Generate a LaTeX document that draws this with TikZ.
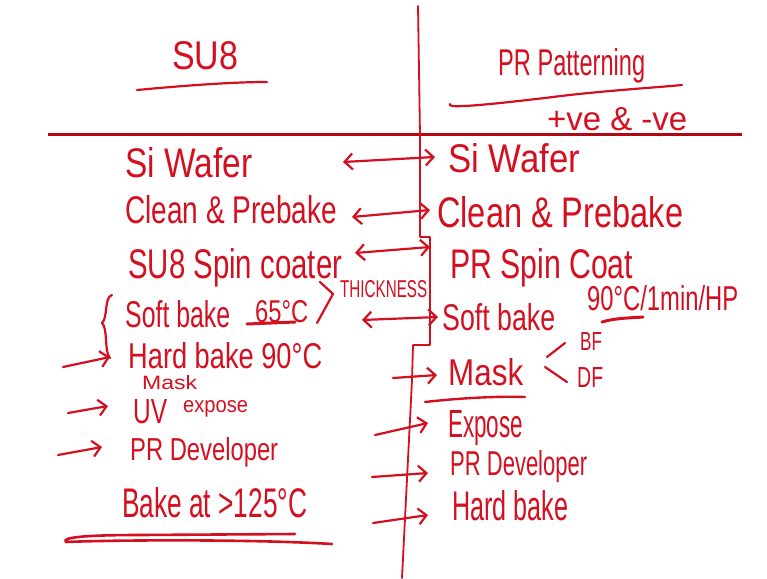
\documentclass[tikz,border=0pt]{standalone}
\usepackage{fontspec}
\setmainfont{Liberation Sans}
\usepackage{graphicx}
\usetikzlibrary{arrows.meta}
\definecolor{hred}{RGB}{212,16,32}
\definecolor{hdark}{RGB}{178,8,20}
\newcommand\hw[3]{\resizebox{#1pt}{#2pt}{#3}}
\begin{document}
\begin{tikzpicture}[x=1pt,y=-1pt,
  lbl/.style={anchor=base west,inner sep=0pt,text=hred},
  pen/.style={draw=hred,line width=2.2pt,line cap=round,line join=round},
  tip/.style={-{Straight Barb[length=8pt,width=16pt]}},
  dtip/.style={{Straight Barb[length=8pt,width=16pt]}-{Straight Barb[length=8pt,width=16pt]}}]
\useasboundingbox (0,0) rectangle (767,578);
\fill[white] (0,0) rectangle (767,578);
% titles
\node[lbl] (tsu) at (172,70) {\hw{66}{28}{SU8}};
\node[lbl] (tpr) at (498,75) {\hw{147}{27}{PR Patterning}};
\node[lbl] (tpm) at (547,130) {\hw{140}{23}{+ve \& -ve}};
% left column
\node[lbl] (l1) at (125,177) {\hw{127}{30}{Si Wafer}};
\node[lbl] (l2) at (125,223) {\hw{212}{28}{Clean \& Prebake}};
\node[lbl] (l3) at (128,278) {\hw{214}{30}{SU8 Spin coater}};
\node[lbl] (l4) at (125,327) {\hw{105}{27}{Soft bake}};
\node[lbl] (l4t) at (255,322) {\hw{53}{22}{65°C}};
\node[lbl] (thk) at (340,297) {\hw{87}{17}{THICKNESS}};
\node[lbl] (l5) at (128,368) {\hw{194}{26}{Hard bake 90°C}};
\node[lbl] (lmask) at (142,389) {\hw{55}{14}{Mask}};
\node[lbl] (l6) at (133,423) {\hw{34}{24}{UV}};
\node[lbl] (l6b) at (183,412) {\hw{65}{12}{expose}};
\node[lbl] (l7) at (130,460) {\hw{148}{23}{PR Developer}};
\node[lbl] (l8) at (122,517) {\hw{185}{30}{Bake at >125°C}};
% right column
\node[lbl] (r1) at (448,172) {\hw{132}{29}{Si Wafer}};
\node[lbl] (r2) at (437,227) {\hw{246}{31}{Clean \& Prebake}};
\node[lbl] (r3) at (450,278) {\hw{183}{30}{PR Spin Coat}};
\node[lbl] (r4) at (442,330) {\hw{113}{27}{Soft bake}};
\node[lbl] (r4t) at (587,310) {\hw{151}{25}{90°C/1min/HP}};
\node[lbl] (r5) at (448,385) {\hw{75}{27}{Mask}};
\node[lbl] (bf) at (580,350) {\hw{22}{18}{BF}};
\node[lbl] (df) at (577,387) {\hw{26}{20}{DF}};
\node[lbl] (r6) at (448,437) {\hw{75}{27}{Expose}};
\node[lbl] (r7) at (450,475) {\hw{137}{25}{PR Developer}};
\node[lbl] (r8) at (452,520) {\hw{116}{30}{Hard bake}};
% dividing lines
\draw[draw=hdark,line width=3pt] (48,134) -- (742,134);
\draw[pen,line width=1.8pt] (418,6) -- (420,135) -- (420,237) -- (430,237) -- (430,345) -- (413,345) -- (412,380) -- (402,578);
% underlines
\draw[pen] (137,90) .. controls (180,86) and (230,82) .. (267,82);
\draw[pen] (450,104) .. controls (446,108) and (470,107) .. (553,97) .. controls (600,91) and (650,88) .. (682,85);
\draw[pen,line width=3pt] (247,324) -- (295,322);
\draw[pen,line width=3pt] (602,322) .. controls (615,318) and (630,318) .. (643,317);
\draw[pen,line width=2.4pt] (425,402) .. controls (460,398) and (500,396) .. (525,397);
\draw[pen,line width=2.6pt] (332,544) .. controls (250,539) and (110,540) .. (66,542) .. controls (60,537) and (90,535) .. (140,535) -- (295,534);
% marks
\draw[pen] (320,282) -- (333,294) -- (317,323);
\draw[pen] (112,295) .. controls (104,297) and (108,318) .. (102,323) .. controls (108,328) and (104,352) .. (110,358);
\draw[pen] (565,343) -- (547,357);
\draw[pen] (545,367) -- (567,382);
% double arrows
\coordinate (a1s) at (343,162); \coordinate (a1e) at (435,157);
\coordinate (a2s) at (352,217); \coordinate (a2e) at (430,210);
\coordinate (a3s) at (355,253); \coordinate (a3e) at (430,247);
\coordinate (a4s) at (362,320); \coordinate (a4e) at (438,317);
\draw[pen,dtip] (a1s) -- (a1e);
\draw[pen,dtip] (a2s) -- (a2e);
\draw[pen,dtip] (a3s) -- (a3e);
\draw[pen,dtip] (a4s) -- (a4e);
% left arrows
\coordinate (b1) at (63,367); \coordinate (b2) at (68,413); \coordinate (b3) at (58,455);
\draw[pen,tip] (b1) -- (110,357);
\draw[pen,tip] (b2) -- (108,406);
\draw[pen,tip] (b3) -- (102,447);
% right arrows
\coordinate (c1) at (393,378); \coordinate (c2) at (375,435); \coordinate (c3) at (372,477); \coordinate (c4) at (373,523);
\draw[pen,tip] (c1) -- (437,375);
\draw[pen,tip] (c2) -- (428,423);
\draw[pen,tip] (c3) -- (428,473);
\draw[pen,tip] (c4) -- (428,515);
\end{tikzpicture}
\end{document}
